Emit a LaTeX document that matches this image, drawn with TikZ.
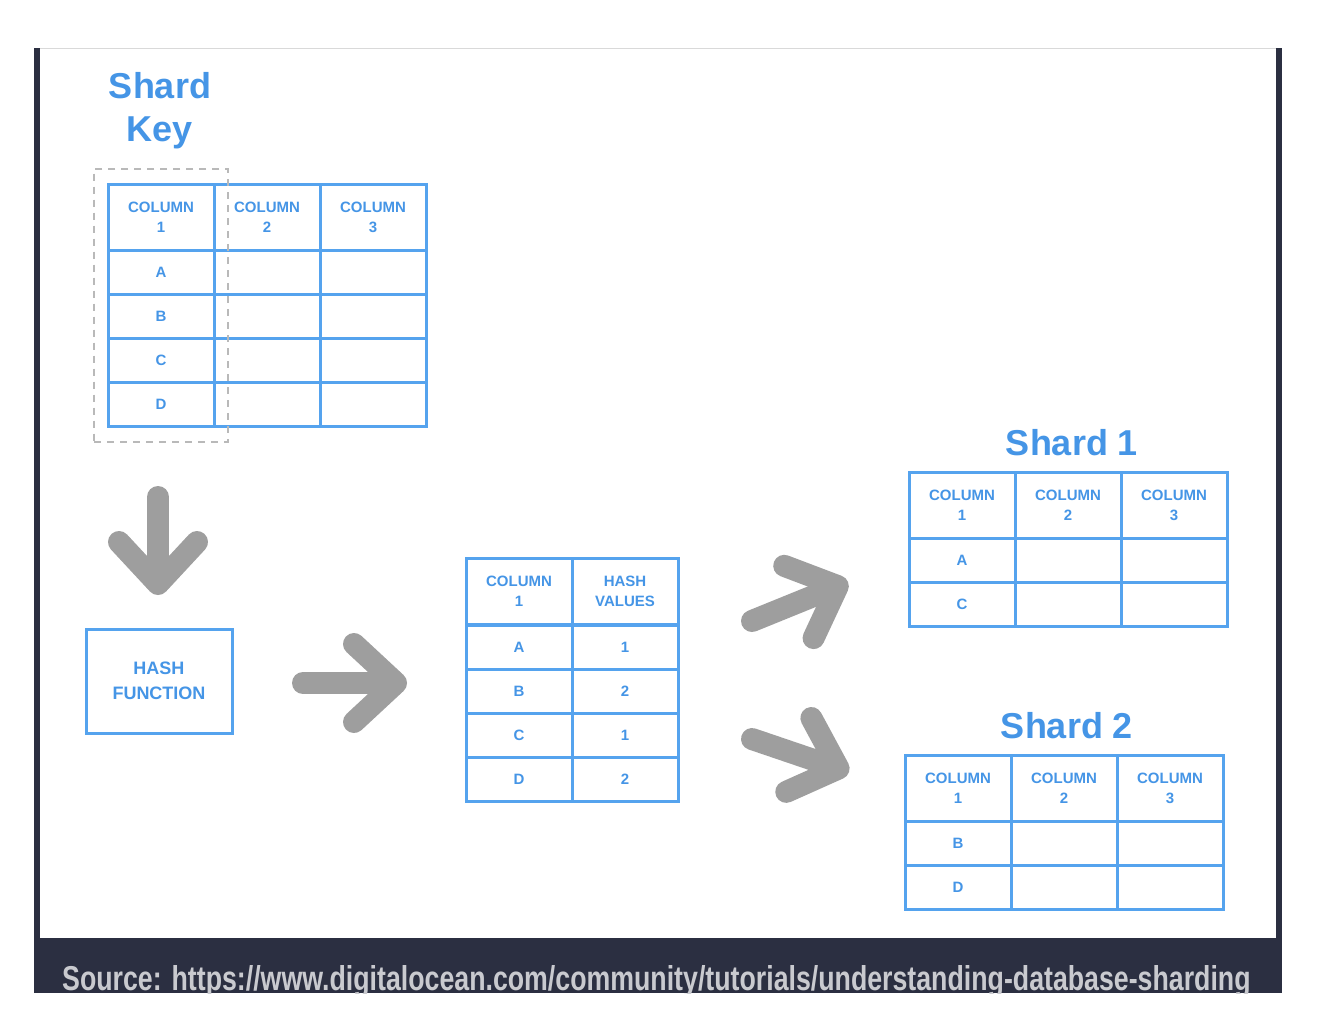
\documentclass[tikz,border=0pt]{standalone}
\usepackage{fontspec}
\setmainfont{Liberation Sans}
\usetikzlibrary{arrows.meta,fit}
\definecolor{tblue}{HTML}{55A3EE}
\definecolor{ttext}{HTML}{4595E6}
\definecolor{arrowgrey}{HTML}{9E9E9E}
\definecolor{navy}{HTML}{2B2F41}
\definecolor{srcgrey}{HTML}{C9CACF}

\begin{document}
\begin{tikzpicture}[x=1pt,y=-1pt,
        cell/.style={draw=tblue,line width=3pt,minimum width=106pt,minimum height=44pt,inner sep=0pt,
            text=ttext,font=\fontsize{15}{20}\selectfont\bfseries,align=center},
        headcell/.style={cell,minimum height=66pt},
        hashbox/.style={draw=tblue,line width=3pt,minimum width=146pt,minimum height=104pt,
            text=ttext,font=\fontsize{18}{25}\selectfont\bfseries,align=center},
        title/.style={text=ttext,font=\fontsize{36}{43}\selectfont\bfseries,align=center},
        fatarrow/.style={draw=arrowgrey,line width=22pt,line cap=round,
            -{Straight Barb[length=42pt,width=78pt,round]}},
        keybox/.style={draw=gray!55,line width=2pt,dash pattern=on 7pt off 6pt,inner xsep=12.5pt,inner ysep=14pt}]
        \useasboundingbox (0,0) rectangle (1320,1028);
        \fill[navy] (34,48) rectangle (1282,993);
        \fill[white] (40,48) rectangle (1276,938);
        \draw[gray!30,line width=1pt] (40,48.5) -- (1276,48.5);
        \begin{scope}
            \clip (34,940) rectangle (1282,993);
            \node[anchor=base west,text=srcgrey,inner sep=0pt] (source) at (62,990)
                {\resizebox{1188pt}{25pt}{\bfseries Source: https://www.digitalocean.com/community/tutorials/understanding-database-sharding}};
        \end{scope}
        % titles
        \node[title] (keytitle) at (160,111) {Shard\\Key};
        \node[title] (s1title) at (1072,443) {Shard 1};
        \node[title] (s2title) at (1067,726) {Shard 2};
        % shard key table
        \foreach \c in {1,2,3}
            \node[headcell] (key-0-\c) at ({55+106*\c},217) {COLUMN\\\c};
        \foreach \r/\v in {1/A,2/B,3/C,4/D}
            \foreach \c in {1,2,3}
                \node[cell] (key-\r-\c) at ({55+106*\c},{228+44*\r}) {\ifnum\c=1 \v\fi};
        \node[keybox,fit=(key-0-1)(key-4-1)] (keycol) {};
        % hash function
        \node[hashbox] (hash) at (159,681) {HASH\\FUNCTION};
        % hash values table
        \node[headcell] (hv-0-1) at (519,591) {COLUMN\\1};
        \node[headcell] (hv-0-2) at (625,591) {HASH\\VALUES};
        \foreach \r/\v/\h in {1/A/1,2/B/2,3/C/1,4/D/2} {
            \node[cell] (hv-\r-1) at (519,{603+44*\r}) {\v};
            \node[cell] (hv-\r-2) at (625,{603+44*\r}) {\h};
        }
        % shard 1
        \foreach \c in {1,2,3}
            \node[headcell] (sa-0-\c) at ({856+106*\c},505) {COLUMN\\\c};
        \foreach \r/\v in {1/A,2/C}
            \foreach \c in {1,2,3}
                \node[cell] (sa-\r-\c) at ({856+106*\c},{516+44*\r}) {\ifnum\c=1 \v\fi};
        % shard 2
        \foreach \c in {1,2,3}
            \node[headcell] (sb-0-\c) at ({852+106*\c},788) {COLUMN\\\c};
        \foreach \r/\v in {1/B,2/D}
            \foreach \c in {1,2,3}
                \node[cell] (sb-\r-\c) at ({852+106*\c},{799+44*\r}) {\ifnum\c=1 \v\fi};
        % arrows
        \coordinate (down-s) at (158,497);
        \coordinate (down-e) at (158,595);
        \coordinate (right-s) at (303,683);
        \coordinate (right-e) at (407,683);
        \coordinate (up-s) at (752,621);
        \coordinate (up-e) at (848,582);
        \coordinate (dn-s) at (752,739);
        \coordinate (dn-e) at (849,772);
        \draw[fatarrow] (down-s) -- (down-e);
        \draw[fatarrow] (right-s) -- (right-e);
        \draw[fatarrow] (up-s) -- (up-e);
        \draw[fatarrow] (dn-s) -- (dn-e);
    \end{tikzpicture}
\end{document}
